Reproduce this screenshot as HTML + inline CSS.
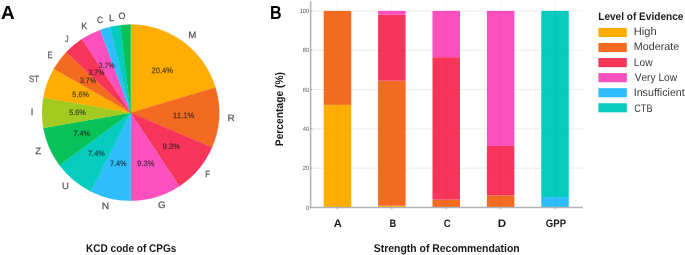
<!DOCTYPE html>
<html><head><meta charset="utf-8"><style>
html,body{margin:0;padding:0;background:#fff;}
body{width:685px;height:255px;overflow:hidden;}
svg{display:block;will-change:transform;}
text{font-family:"Liberation Sans",sans-serif;font-kerning:none;text-rendering:geometricPrecision;}
.pl{fill:#585858;stroke:#585858;stroke-width:0.25px;}
.pc{fill:#1e1e1e;stroke:#1e1e1e;stroke-width:0.25px;opacity:0.72;}
.yt{fill:#555;}
.xt{font-weight:bold;fill:#1a1a1a;}
.lt{font-weight:bold;fill:#1a1a1a;}
.li{fill:#3a3a3a;}
.pn{font-weight:bold;fill:#000;}
.xl{font-weight:bold;fill:#1a1a1a;}
</style></head><body>
<svg width="685" height="255" viewBox="0 0 685 255">
<rect width="685" height="255" fill="#fff"/>
<path d="M130.60,112.70 L130.60,24.60 A88.6,88.1 0 0 1 215.48,87.43 Z" fill="#FFAD00" stroke="#FFAD00" stroke-width="0.25"/>
<path d="M130.60,112.70 L215.48,87.43 A88.6,88.1 0 0 1 211.95,147.59 Z" fill="#F26B21" stroke="#F26B21" stroke-width="0.25"/>
<path d="M130.60,112.70 L211.95,147.59 A88.6,88.1 0 0 1 179.29,186.31 Z" fill="#F7345A" stroke="#F7345A" stroke-width="0.25"/>
<path d="M130.60,112.70 L179.29,186.31 A88.6,88.1 0 0 1 130.60,200.80 Z" fill="#FB50BD" stroke="#FB50BD" stroke-width="0.25"/>
<path d="M130.60,112.70 L130.60,200.80 A88.6,88.1 0 0 1 90.84,191.43 Z" fill="#2EBDFF" stroke="#2EBDFF" stroke-width="0.25"/>
<path d="M130.60,112.70 L90.84,191.43 A88.6,88.1 0 0 1 59.53,165.31 Z" fill="#06CCC0" stroke="#06CCC0" stroke-width="0.25"/>
<path d="M130.60,112.70 L59.53,165.31 A88.6,88.1 0 0 1 43.35,128.00 Z" fill="#06C258" stroke="#06C258" stroke-width="0.25"/>
<path d="M130.60,112.70 L43.35,128.00 A88.6,88.1 0 0 1 43.35,97.40 Z" fill="#A2CA20" stroke="#A2CA20" stroke-width="0.25"/>
<path d="M130.60,112.70 L43.35,97.40 A88.6,88.1 0 0 1 53.87,68.65 Z" fill="#FFAD00" stroke="#FFAD00" stroke-width="0.25"/>
<path d="M130.60,112.70 L53.87,68.65 A88.6,88.1 0 0 1 66.15,52.24 Z" fill="#F26B21" stroke="#F26B21" stroke-width="0.25"/>
<path d="M130.60,112.70 L66.15,52.24 A88.6,88.1 0 0 1 81.91,39.09 Z" fill="#F7345A" stroke="#F7345A" stroke-width="0.25"/>
<path d="M130.60,112.70 L81.91,39.09 A88.6,88.1 0 0 1 100.30,29.91 Z" fill="#FB50BD" stroke="#FB50BD" stroke-width="0.25"/>
<path d="M130.60,112.70 L100.30,29.91 A88.6,88.1 0 0 1 110.17,26.97 Z" fill="#2EBDFF" stroke="#2EBDFF" stroke-width="0.25"/>
<path d="M130.60,112.70 L110.17,26.97 A88.6,88.1 0 0 1 120.31,25.20 Z" fill="#06CCC0" stroke="#06CCC0" stroke-width="0.25"/>
<path d="M130.60,112.70 L120.31,25.20 A88.6,88.1 0 0 1 130.60,24.60 Z" fill="#06C258" stroke="#06C258" stroke-width="0.25"/>
<text transform="translate(188.20,37.76) scale(1.0562,1)" class="pl" style="font-size:9.20px">M</text>
<text transform="translate(227.38,121.11) scale(1.0801,1)" class="pl" style="font-size:9.20px">R</text>
<text transform="translate(205.26,177.41) scale(0.8451,1)" class="pl" style="font-size:9.20px">F</text>
<text transform="translate(158.01,207.96) scale(1.0656,1)" class="pl" style="font-size:9.20px">G</text>
<text transform="translate(101.66,209.26) scale(1.1092,1)" class="pl" style="font-size:9.20px">N</text>
<text transform="translate(61.97,189.31) scale(1.0336,1)" class="pl" style="font-size:9.20px">U</text>
<text transform="translate(35.29,153.71) scale(1.0515,1)" class="pl" style="font-size:9.20px">Z</text>
<text transform="translate(30.70,115.21) scale(1.0000,1)" class="pl" style="font-size:9.20px">I</text>
<text transform="translate(28.95,82.06) scale(0.8448,1)" class="pl" style="font-size:9.20px">ST</text>
<text transform="translate(47.38,57.71) scale(0.8222,1)" class="pl" style="font-size:9.20px">E</text>
<text transform="translate(65.20,41.76) scale(0.7155,1)" class="pl" style="font-size:9.20px">J</text>
<text transform="translate(81.36,28.76) scale(0.9757,1)" class="pl" style="font-size:9.20px">K</text>
<text transform="translate(96.93,22.91) scale(0.9097,1)" class="pl" style="font-size:9.20px">C</text>
<text transform="translate(109.02,20.56) scale(1.0354,1)" class="pl" style="font-size:9.20px">L</text>
<text transform="translate(118.48,18.56) scale(0.9713,1)" class="pl" style="font-size:9.20px">O</text>
<text transform="translate(151.56,72.63) scale(0.9699,1)" class="pc" style="font-size:7.80px">20.4%</text>
<text transform="translate(172.90,118.10) scale(0.9603,1)" class="pc" style="font-size:7.80px">11.1%</text>
<text transform="translate(162.77,149.01) scale(0.9571,1)" class="pc" style="font-size:7.80px">9.3%</text>
<text transform="translate(137.30,165.67) scale(0.9571,1)" class="pc" style="font-size:7.80px">9.3%</text>
<text transform="translate(109.97,166.47) scale(0.9356,1)" class="pc" style="font-size:7.80px">7.4%</text>
<text transform="translate(88.06,155.52) scale(0.9356,1)" class="pc" style="font-size:7.80px">7.4%</text>
<text transform="translate(73.41,135.97) scale(0.9356,1)" class="pc" style="font-size:7.80px">7.4%</text>
<text transform="translate(69.15,115.03) scale(0.9309,1)" class="pc" style="font-size:7.80px">5.6%</text>
<text transform="translate(72.36,96.95) scale(0.9309,1)" class="pc" style="font-size:7.80px">5.6%</text>
<text transform="translate(79.99,83.46) scale(0.8952,1)" class="pc" style="font-size:7.80px">3.7%</text>
<text transform="translate(88.46,74.54) scale(0.8952,1)" class="pc" style="font-size:7.80px">3.7%</text>
<text transform="translate(98.78,67.79) scale(0.8952,1)" class="pc" style="font-size:7.80px">3.7%</text>
<line x1="310.6" y1="207.50" x2="582.85" y2="207.50" stroke="#ececec" stroke-width="0.8"/>
<line x1="310.6" y1="168.18" x2="582.85" y2="168.18" stroke="#ececec" stroke-width="0.8"/>
<line x1="310.6" y1="128.86" x2="582.85" y2="128.86" stroke="#ececec" stroke-width="0.8"/>
<line x1="310.6" y1="89.54" x2="582.85" y2="89.54" stroke="#ececec" stroke-width="0.8"/>
<line x1="310.6" y1="50.22" x2="582.85" y2="50.22" stroke="#ececec" stroke-width="0.8"/>
<line x1="310.6" y1="10.90" x2="582.85" y2="10.90" stroke="#ececec" stroke-width="0.8"/>
<line x1="337.45" y1="1.2" x2="337.45" y2="207.5" stroke="#f0f0f0" stroke-width="0.8"/>
<line x1="391.84" y1="1.2" x2="391.84" y2="207.5" stroke="#f0f0f0" stroke-width="0.8"/>
<line x1="446.23" y1="1.2" x2="446.23" y2="207.5" stroke="#f0f0f0" stroke-width="0.8"/>
<line x1="500.62" y1="1.2" x2="500.62" y2="207.5" stroke="#f0f0f0" stroke-width="0.8"/>
<line x1="555.01" y1="1.2" x2="555.01" y2="207.5" stroke="#f0f0f0" stroke-width="0.8"/>
<rect x="323.70" y="104.87" width="27.5" height="102.63" fill="#FFAD00"/>
<rect x="323.70" y="10.90" width="27.5" height="93.97" fill="#F26B21"/>
<rect x="378.09" y="205.73" width="27.5" height="1.77" fill="#FFAD00"/>
<rect x="378.09" y="80.69" width="27.5" height="125.04" fill="#F26B21"/>
<rect x="378.09" y="14.83" width="27.5" height="65.86" fill="#F7345A"/>
<rect x="378.09" y="10.90" width="27.5" height="3.93" fill="#FB50BD"/>
<rect x="432.48" y="199.64" width="27.5" height="7.86" fill="#F26B21"/>
<rect x="432.48" y="57.20" width="27.5" height="142.44" fill="#F7345A"/>
<rect x="432.48" y="10.90" width="27.5" height="46.30" fill="#FB50BD"/>
<rect x="486.87" y="195.31" width="27.5" height="12.19" fill="#F26B21"/>
<rect x="486.87" y="145.96" width="27.5" height="49.35" fill="#F7345A"/>
<rect x="486.87" y="10.90" width="27.5" height="135.06" fill="#FB50BD"/>
<rect x="541.26" y="197.08" width="27.5" height="10.42" fill="#2EBDFF"/>
<rect x="541.26" y="10.90" width="27.5" height="186.18" fill="#06CCC0"/>
<line x1="337.45" y1="10.90" x2="337.45" y2="207.5" stroke="#000" stroke-opacity="0.045" stroke-width="0.8"/>
<line x1="391.84" y1="10.90" x2="391.84" y2="207.5" stroke="#000" stroke-opacity="0.045" stroke-width="0.8"/>
<line x1="446.23" y1="10.90" x2="446.23" y2="207.5" stroke="#000" stroke-opacity="0.045" stroke-width="0.8"/>
<line x1="500.62" y1="10.90" x2="500.62" y2="207.5" stroke="#000" stroke-opacity="0.045" stroke-width="0.8"/>
<line x1="555.01" y1="10.90" x2="555.01" y2="207.5" stroke="#000" stroke-opacity="0.045" stroke-width="0.8"/>
<line x1="310.6" y1="207.50" x2="582.85" y2="207.50" stroke="#000" stroke-opacity="0.025" stroke-width="0.8"/>
<line x1="310.6" y1="168.18" x2="582.85" y2="168.18" stroke="#000" stroke-opacity="0.025" stroke-width="0.8"/>
<line x1="310.6" y1="128.86" x2="582.85" y2="128.86" stroke="#000" stroke-opacity="0.025" stroke-width="0.8"/>
<line x1="310.6" y1="89.54" x2="582.85" y2="89.54" stroke="#000" stroke-opacity="0.025" stroke-width="0.8"/>
<line x1="310.6" y1="50.22" x2="582.85" y2="50.22" stroke="#000" stroke-opacity="0.025" stroke-width="0.8"/>
<line x1="310.6" y1="10.90" x2="582.85" y2="10.90" stroke="#000" stroke-opacity="0.025" stroke-width="0.8"/>
<line x1="310.6" y1="1.2" x2="310.6" y2="208.3" stroke="#b2b2b2" stroke-width="1.5"/>
<line x1="309.8" y1="207.5" x2="582.85" y2="207.5" stroke="#b2b2b2" stroke-width="1.5"/>
<line x1="310.6" y1="207.50" x2="312.40000000000003" y2="207.50" stroke="#999" stroke-width="0.8"/>
<text transform="translate(305.97,209.75) scale(0.9300,1)" class="yt" style="font-size:6.10px">0</text>
<line x1="310.6" y1="168.18" x2="312.40000000000003" y2="168.18" stroke="#999" stroke-width="0.8"/>
<text transform="translate(302.81,170.43) scale(0.9300,1)" class="yt" style="font-size:6.10px">20</text>
<line x1="310.6" y1="128.86" x2="312.40000000000003" y2="128.86" stroke="#999" stroke-width="0.8"/>
<text transform="translate(302.81,131.11) scale(0.9300,1)" class="yt" style="font-size:6.10px">40</text>
<line x1="310.6" y1="89.54" x2="312.40000000000003" y2="89.54" stroke="#999" stroke-width="0.8"/>
<text transform="translate(302.81,91.79) scale(0.9300,1)" class="yt" style="font-size:6.10px">60</text>
<line x1="310.6" y1="50.22" x2="312.40000000000003" y2="50.22" stroke="#999" stroke-width="0.8"/>
<text transform="translate(302.81,52.47) scale(0.9300,1)" class="yt" style="font-size:6.10px">80</text>
<line x1="310.6" y1="10.90" x2="312.40000000000003" y2="10.90" stroke="#999" stroke-width="0.8"/>
<text transform="translate(299.66,13.15) scale(0.9300,1)" class="yt" style="font-size:6.10px">100</text>
<line x1="337.45" y1="207.5" x2="337.45" y2="209.3" stroke="#999" stroke-width="0.8"/>
<line x1="391.84" y1="207.5" x2="391.84" y2="209.3" stroke="#999" stroke-width="0.8"/>
<line x1="446.23" y1="207.5" x2="446.23" y2="209.3" stroke="#999" stroke-width="0.8"/>
<line x1="500.62" y1="207.5" x2="500.62" y2="209.3" stroke="#999" stroke-width="0.8"/>
<line x1="555.01" y1="207.5" x2="555.01" y2="209.3" stroke="#999" stroke-width="0.8"/>
<text transform="translate(333.82,226.50) scale(1.0255,1)" class="xt" style="font-size:10.90px">A</text>
<text transform="translate(389.57,226.50) scale(0.8574,1)" class="xt" style="font-size:10.90px">B</text>
<text transform="translate(443.70,226.50) scale(0.8839,1)" class="xt" style="font-size:10.90px">C</text>
<text transform="translate(497.83,226.50) scale(1.0620,1)" class="xt" style="font-size:10.90px">D</text>
<text transform="translate(545.81,226.50) scale(0.8828,1)" class="xt" style="font-size:10.90px">GPP</text>
<text transform="translate(598.23,19.80) scale(0.9254,1)" class="lt" style="font-size:10.90px">Level of Evidence</text>
<rect x="598.4" y="27.90" width="28.4" height="9.1" fill="#FFAD00"/>
<text transform="translate(633.78,35.00) scale(1.0256,1)" class="li" style="font-size:10.90px">High</text>
<rect x="598.4" y="42.97" width="28.4" height="9.1" fill="#F26B21"/>
<text transform="translate(633.82,50.35) scale(0.9871,1)" class="li" style="font-size:10.90px">Moderate</text>
<rect x="598.4" y="58.04" width="28.4" height="9.1" fill="#F7345A"/>
<text transform="translate(633.86,65.70) scale(0.9357,1)" class="li" style="font-size:10.90px">Low</text>
<rect x="598.4" y="73.11" width="28.4" height="9.1" fill="#FB50BD"/>
<text transform="translate(634.66,81.05) scale(0.9335,1)" class="li" style="font-size:10.90px">Very Low</text>
<rect x="598.4" y="88.18" width="28.4" height="9.1" fill="#2EBDFF"/>
<text transform="translate(633.71,96.40) scale(0.9799,1)" class="li" style="font-size:10.90px">Insufficient</text>
<rect x="598.4" y="103.25" width="28.4" height="9.1" fill="#06CCC0"/>
<text transform="translate(634.24,111.75) scale(0.8368,1)" class="li" style="font-size:10.90px">CTB</text>
<text transform="translate(1.03,19.20) scale(0.9942,1)" class="pn" style="font-size:19.04px">A</text>
<text transform="translate(270.03,19.20) scale(0.8439,1)" class="pn" style="font-size:19.04px">B</text>
<text transform="translate(86.03,251.70) scale(0.8972,1)" class="xl" style="font-size:11.19px">KCD code of CPGs</text>
<text transform="translate(373.80,251.70) scale(0.9314,1)" class="xl" style="font-size:11.19px">Strength of Recommendation</text>
<text transform="translate(283.2,146.19) rotate(-90) scale(0.9297,1)" class="xl" style="font-size:11.05px">Percentage (%)</text>
</svg>
</body></html>
